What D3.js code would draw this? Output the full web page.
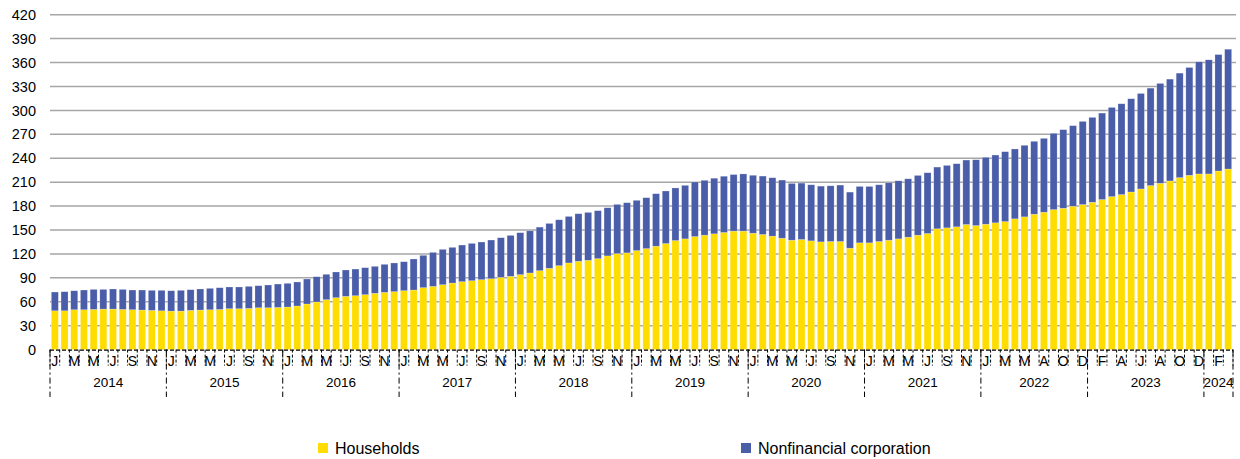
<!DOCTYPE html>
<html>
<head>
<meta charset="utf-8">
<script src="https://cdn.jsdelivr.net/npm/d3@7"></script>
<style>
  html, body { margin: 0; padding: 0; background: #fff; }
  svg { display: block; font-family: Arial, "Liberation Sans", sans-serif; }
</style>
</head>
<body>
<svg id="chart" width="1240" height="459"></svg>
<script>
// ---- data ----
const years = ["2014","2015","2016","2017","2018","2019","2020","2021","2022","2023","2024"];
const monthLetters = [
  ["J","F","M","A","M","J","J","A","S","O","N","D"],
  ["J","F","M","A","M","J","J","A","S","O","N","D"],
  ["J","F","M","A","M","J","J","A","S","O","N","D"],
  ["J","F","M","A","M","J","J","A","S","O","N","D"],
  ["J","F","M","A","M","J","J","A","S","O","N","D"],
  ["J","F","M","A","M","J","J","A","S","O","N","D"],
  ["J","F","M","A","M","J","J","A","S","O","N","D"],
  ["J","F","M","A","M","J","J","A","S","O","N","D"],
  ["J","F","M","A","M","J","A","S","O","N","D"],
  ["J","F","M","A","M","J","J","A","S","O","N","D"],
  ["J","F","M"]
];
const households = [
  48.7,48.7,50,50,50.4,50.8,50.8,50.4,50,49.6,49.2,48.7,
  48.3,48.3,49.2,49.6,50,50.4,51.3,51.3,51.7,52.5,52.5,52.9,
  53.4,54.7,57.2,59.7,62.6,65.1,66.8,67.6,68.9,70.6,71.8,72.7,
  73.9,74.7,77.7,79.3,81.4,83.5,85.2,86.4,87.7,88.9,90.6,91.9,
  94,96.1,99,102,105.3,108.7,110.8,112,114.1,117.5,120.4,121.3,
  124.2,126.7,129.7,133,136.8,138.9,141.8,143.5,145.2,146.9,148.6,148.6,
  146,144.4,142.3,139.7,137.2,138.1,136.4,135.1,135.6,135.6,127.2,133.9,
  133.9,135.6,137.2,138.9,141,143.5,145.6,151.5,152.7,154,156.9,155.6,
  157.3,159,160.6,164,166.5,169.8,172.3,175.6,177.3,179.8,181.9,
  184.8,188.2,191.9,194.4,197.7,201.5,205.7,208.6,211.5,215.7,218.6,220.3,
  220.3,224,226.5
];
const corporations = [
  23.5,23.9,23.8,24.7,25.1,24.7,25.2,25.1,24.7,25.1,25.1,25.6,
  25.5,26,25.9,26.4,26.8,27.2,27.2,27.2,27.6,27.6,28.5,29.3,
  29.7,30.1,31.3,31.7,31.8,32.2,33,33.4,33.8,33.8,35.1,35.9,
  36.3,38.9,40.5,42.6,44.3,44.7,45.9,46.8,47.2,48.5,49.7,51.3,
  52.6,52.9,54.6,56.2,57.5,58.3,59.6,60,60.1,60.4,61.7,62.9,
  63,63.8,65.8,65.9,65.9,67.1,68.4,68.8,69.7,70.5,70.9,71.7,
  72.6,73.2,73.2,72.9,71.2,70.7,70.3,69.9,69.8,70.7,70.3,70.7,
  70.7,71.1,72,72.8,73.2,74.9,76.2,77.4,78.3,79.1,80.8,82.5,
  83.8,85,87.6,87.6,89.7,91.4,92.6,95.6,98.5,101,104.3,
  106.4,108.4,111.8,113.9,116.9,119.7,122.2,125.2,127.7,131,135.2,140.6,
  143.1,146,150.2
];
const yTicks = [0,30,60,90,120,150,180,210,240,270,300,330,360,390,420];
const seriesNames = ["Households", "Nonfinancial corporation"];
const seriesColors = ["#FFDD00", "#4A5DA8"];

// ---- build categories ----
const categories = [];
years.forEach((yr, yi) => monthLetters[yi].forEach((m, mi) => categories.push({id: yr + "-" + mi, year: yr, month: m})));
const rows = categories.map((c, i) => ({id: c.id, households: households[i], corporations: corporations[i]}));

const svg = d3.select("#chart");
const plotLeft = 50, plotRight = 1233, plotTop = 14.7, plotBottom = 349.6;

const x = d3.scaleBand().domain(categories.map(c => c.id)).range([plotLeft, plotRight])
  .paddingInner(0.28).paddingOuter(0.14);
const y = d3.scaleLinear().domain([0, 420]).range([plotBottom, plotTop]);

// gridlines
svg.append("g").selectAll("line").data(yTicks.filter(t => t > 0)).join("line")
  .attr("x1", plotLeft).attr("x2", 1236)
  .attr("y1", d => y(d)).attr("y2", d => y(d))
  .attr("stroke", "#a6a6a6").attr("stroke-width", 1.5);

// y labels
const yAxis = d3.axisLeft(y).tickValues(yTicks).tickSize(0).tickPadding(0);
const yg = svg.append("g").attr("transform", `translate(36,0)`).call(yAxis);
yg.select(".domain").remove();
yg.selectAll("text").attr("font-size", "14.5px").attr("fill", "#000")
  .attr("font-family", "Arial, 'Liberation Sans', sans-serif");

// stacked bars
const stack = d3.stack().keys(["households", "corporations"]);
const series = stack(rows);
svg.append("g").selectAll("g").data(series).join("g")
  .attr("fill", (d, i) => seriesColors[i])
  .selectAll("rect").data(d => d).join("rect")
  .attr("x", d => x(d.data.id))
  .attr("width", x.bandwidth())
  .attr("y", d => y(d[1]))
  .attr("height", d => y(d[0]) - y(d[1]))
  .attr("stroke", "#ffffff").attr("stroke-opacity", 0.35).attr("stroke-width", 0.6);

// x axis line
svg.append("line").attr("x1", plotLeft).attr("x2", plotRight).attr("y1", plotBottom + 0.5).attr("y2", plotBottom + 0.5)
  .attr("stroke", "#000").attr("stroke-width", 1.2).attr("stroke-dasharray", "4,2");

// category ticks
const step = x.step();
const boundaries = d3.range(categories.length + 1).map(i => plotLeft + i * step);
svg.append("g").selectAll("line").data(boundaries).join("line")
  .attr("x1", d => d).attr("x2", d => d)
  .attr("y1", plotBottom).attr("y2", plotBottom + 16)
  .attr("stroke", "#000").attr("stroke-width", 1).attr("stroke-dasharray", "3,2");

// month labels (every other category)
svg.append("g").selectAll("text").data(categories.filter((c, i) => i % 2 === 0)).join("text")
  .attr("x", d => x(d.id) + x.bandwidth() / 2)
  .attr("y", 366)
  .attr("text-anchor", "middle")
  .attr("font-size", "14px").attr("fill", "#000")
  .text(d => d.month);

// year groups
const yearSpans = years.map(yr => {
  const idx = categories.map((c, i) => c.year === yr ? i : -1).filter(i => i >= 0);
  return {year: yr, start: plotLeft + idx[0] * step, end: plotLeft + (idx[idx.length - 1] + 1) * step};
});
svg.append("g").selectAll("line").data(yearSpans.map(s => s.start).concat([plotRight])).join("line")
  .attr("x1", d => d).attr("x2", d => d)
  .attr("y1", plotBottom).attr("y2", 397)
  .attr("stroke", "#000").attr("stroke-width", 1).attr("stroke-dasharray", "6,3,2,3");
svg.append("g").selectAll("text").data(yearSpans).join("text")
  .attr("x", d => (d.start + d.end) / 2)
  .attr("y", 387)
  .attr("text-anchor", "middle")
  .attr("font-size", "13.5px").attr("fill", "#000")
  .text(d => d.year);

// legend
const legendX = [318, 741];
const lg = svg.append("g").selectAll("g").data(seriesNames).join("g")
  .attr("transform", (d, i) => `translate(${legendX[i]},443)`);
lg.append("rect").attr("width", 10).attr("height", 10).attr("fill", (d, i) => seriesColors[i]);
lg.append("text").attr("x", 17).attr("y", 10.5).attr("font-size", "16px").attr("fill", "#000").text(d => d);
</script>
</body>
</html>
